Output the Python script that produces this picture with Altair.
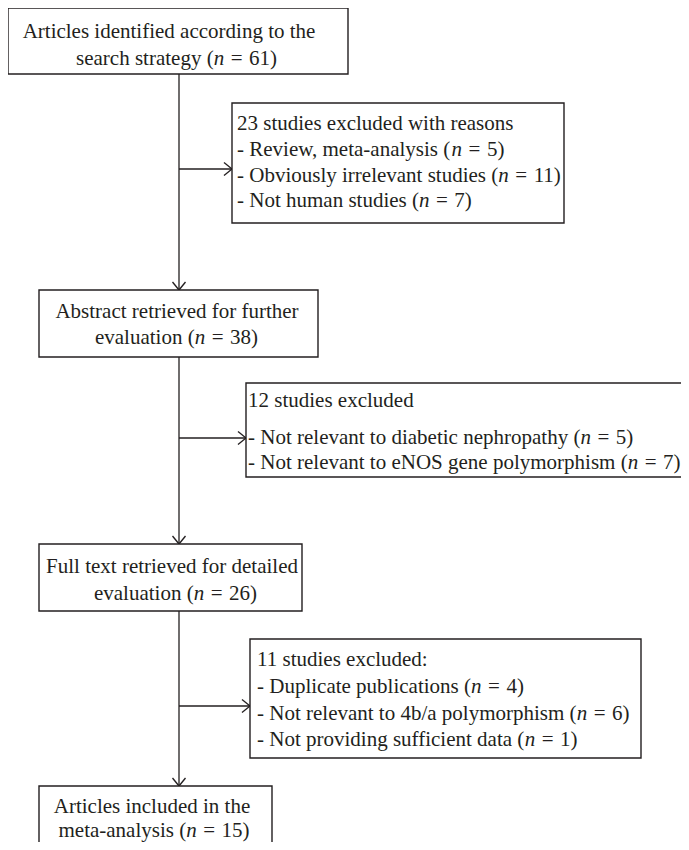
import altair as alt
import pandas as pd

# ---------------- content ----------------
stage_line1 = ["Articles identified according to the",
               "Abstract retrieved for further",
               "Full text retrieved for detailed",
               "Articles included in the"]
stage_line2 = ["search strategy", "evaluation", "evaluation", "meta-analysis"]
stage_n = [61, 38, 26, 15]

excl_headers = ["23 studies excluded with reasons",
                "12 studies excluded",
                "11 studies excluded:"]
excl_reasons = [["Review, meta-analysis", "Obviously irrelevant studies", "Not human studies"],
                ["Not relevant to diabetic nephropathy", "Not relevant to eNOS gene polymorphism"],
                ["Duplicate publications", "Not relevant to 4b/a polymorphism", "Not providing sufficient data"]]
excl_n = [[5, 11, 7], [5, 7], [4, 6, 1]]

# ---------------- layout (page pixel coordinates) ----------------
stage_boxes = [(8, 8, 348, 74), (39, 290, 318, 357), (39, 544, 302, 611), (39, 786, 272, 900)]
stage_center = [(169, 176.5), (177, 176.5), (172, 175.5), (152, 154)]
stage_base = [(38, 65), (318, 344), (573, 600), (813, 837)]

excl_boxes = [(232, 103, 564, 223), (246, 383, 720, 477), (250, 639, 641, 758)]
excl_text_x = [237, 248, 257]
excl_base = [[130, 156, 182, 207], [407, 444, 469], [666, 693, 720, 746]]
excl_arrow_y = [169, 438, 706]
spine_x = 179

FONT = "Liberation Serif"
FS = 21
INK = "#231f20"
GAP = 6.5  # space on each side of "="

# Times-compatible advance widths (per 1000 em) for Liberation Serif
_w = {" ": 250, "(": 333, ")": 333, ",": 250, "-": 333, ".": 250, "/": 278, ":": 278, "=": 564}
_w.update({d: 500 for d in "0123456789"})
_w.update(dict(zip("ABCDEFGHIJKLMNOPQRSTUVWXYZ",
                   [722, 667, 667, 722, 611, 556, 722, 722, 333, 389, 722, 611, 889,
                    722, 722, 556, 722, 667, 556, 611, 722, 722, 944, 722, 722, 611])))
_w.update(dict(zip("abcdefghijklmnopqrstuvwxyz",
                   [444, 500, 444, 500, 444, 333, 500, 500, 278, 278, 500, 278, 778,
                    500, 500, 500, 500, 333, 389, 278, 500, 500, 722, 500, 500, 444])))


def tw(s):
    return sum(_w.get(c, 500) for c in s) * FS / 1000.0


# ---------------- tables ----------------
boxes = pd.DataFrame([dict(x=a, y=b, x2=c, y2=d) for (a, b, c, d) in stage_boxes + excl_boxes])

center_rows, left_rows, n_rows = [], [], []


def n_line_width(prefix, count):
    return tw(prefix) + tw("n") + GAP + tw("=") + GAP + tw(f"{count})")


def add_n_line(prefix, count, start, y):
    x_n = start + tw(prefix)
    x_eq = x_n + tw("n") + GAP
    x_num = x_eq + tw("=") + GAP
    left_rows.append(dict(t=prefix, x=start, y=y))
    n_rows.append(dict(t="n", x=x_n, y=y))
    left_rows.append(dict(t="=", x=x_eq, y=y))
    left_rows.append(dict(t=f"{count})", x=x_num, y=y))


for i in range(4):
    center_rows.append(dict(t=stage_line1[i], x=stage_center[i][0], y=stage_base[i][0]))
    prefix = stage_line2[i] + " ("
    start = stage_center[i][1] - n_line_width(prefix, stage_n[i]) / 2
    add_n_line(prefix, stage_n[i], start, stage_base[i][1])

for j in range(3):
    left_rows.append(dict(t=excl_headers[j], x=excl_text_x[j], y=excl_base[j][0]))
    for k, reason in enumerate(excl_reasons[j]):
        add_n_line("- " + reason + " (", excl_n[j][k], excl_text_x[j], excl_base[j][k + 1])

# connector lines and open arrowheads
lines = [dict(x=spine_x, y=stage_boxes[0][3], x2=spine_x, y2=stage_boxes[3][1])]
AB, AS = 8, 6.5
for j in range(3):
    ay = excl_arrow_y[j]
    tip = excl_boxes[j][0]
    lines.append(dict(x=spine_x, y=ay, x2=tip, y2=ay))
    lines.append(dict(x=tip - AB, y=ay - AS, x2=tip, y2=ay))
    lines.append(dict(x=tip - AB, y=ay + AS, x2=tip, y2=ay))
for i in range(1, 4):
    ty = stage_boxes[i][1]
    lines.append(dict(x=spine_x - AS, y=ty - AB, x2=spine_x, y2=ty))
    lines.append(dict(x=spine_x + AS, y=ty - AB, x2=spine_x, y2=ty))
lines_df = pd.DataFrame(lines)

W, H = 673, 834
xs = alt.Scale(domain=[8, 8 + W], nice=False, zero=False)
ys = alt.Scale(domain=[8, 8 + H], nice=False, zero=False, reverse=True)
X = alt.X("x:Q", scale=xs, axis=None)
Y = alt.Y("y:Q", scale=ys, axis=None)

rects = alt.Chart(boxes).mark_rect(fill="white", stroke=INK, strokeWidth=1.4, clip=True).encode(
    x=X, y=Y, x2="x2:Q", y2="y2:Q")
rules = alt.Chart(lines_df).mark_rule(color=INK, strokeWidth=1.3).encode(
    x=X, y=Y, x2="x2:Q", y2="y2:Q")


def txt(rows, align, style="normal"):
    return alt.Chart(pd.DataFrame(rows)).mark_text(
        font=FONT, fontSize=FS, color=INK, align=align, baseline="alphabetic", fontStyle=style
    ).encode(x=X, y=Y, text="t:N")


chart = alt.layer(
    rules, rects,
    txt(center_rows, "center"),
    txt(left_rows, "left"),
    txt(n_rows, "left", "italic"),
).properties(width=W, height=H, background="white", padding=0,
             autosize=alt.AutoSizeParams(type="none")).configure_view(strokeWidth=0, stroke=None)

chart.save("out.html", embed_options={"renderer": "svg", "actions": False})
